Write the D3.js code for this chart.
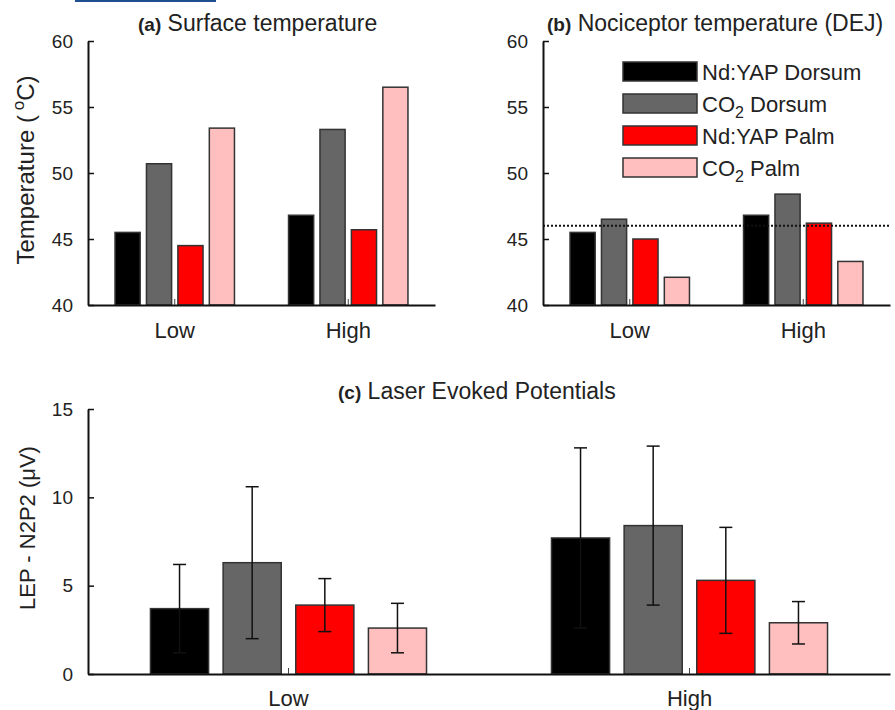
<!DOCTYPE html>
<html>
<head>
<meta charset="utf-8">
<script src="https://cdn.jsdelivr.net/npm/d3@7"></script>
<style>
  html, body { margin: 0; padding: 0; background: #fff; }
  svg { display: block; font-family: "Liberation Sans", Arial, sans-serif; }
</style>
</head>
<body>
<svg id="chart" width="895" height="710"></svg>
<script>
// ---------- data ----------
const categories = ["Low", "High"];
const seriesNames = ["Nd:YAP Dorsum", "CO2 Dorsum", "Nd:YAP Palm", "CO2 Palm"];
const seriesColors = ["#000000", "#666666", "#ff0000", "#ffbfbf"];
const surfaceLow = [45.5, 50.7, 44.5, 53.4];
const surfaceHigh = [46.8, 53.3, 45.7, 56.5];
const nociLow = [45.5, 46.5, 45.0, 42.1];
const nociHigh = [46.8, 48.4, 46.2, 43.3];
const nociThreshold = 46.0;
const lepLow = [3.7, 6.3, 3.9, 2.6];
const lepHigh = [7.7, 8.4, 5.3, 2.9];
const lepErrLow = [2.5, 4.3, 1.5, 1.4];
const lepErrHigh = [5.1, 4.5, 3.0, 1.2];
const tempTicks = [40, 45, 50, 55, 60];
const lepTicks = [0, 5, 10, 15];

const svg = d3.select("#chart");
const txt = "#222";

// decorative link underline at top-left
svg.append("rect").attr("x", 75).attr("y", 0).attr("width", 141).attr("height", 2).attr("fill", "#1e4f91");

function panel(opts) {
  const g = svg.append("g");
  const x0 = d3.scaleBand().domain(categories).range([opts.left, opts.right]);
  const x1 = d3.scaleBand().domain(seriesNames).range([0, x0.bandwidth()])
    .paddingInner(0.2).paddingOuter(0.86);
  const y = d3.scaleLinear().domain(opts.domain).range([opts.bottom, opts.top]);

  const rows = categories.map((c, i) => ({cat: c, vals: opts.values[i], errs: opts.errs ? opts.errs[i] : null}));
  const flat = [];
  rows.forEach(r => r.vals.forEach((v, j) => flat.push({cat: r.cat, s: seriesNames[j], v: v, e: r.errs ? r.errs[j] : null, c: seriesColors[j]})));

  g.selectAll("rect.bar").data(flat).enter().append("rect")
    .attr("class", "bar")
    .attr("x", d => x0(d.cat) + x1(d.s))
    .attr("width", x1.bandwidth())
    .attr("y", d => y(d.v))
    .attr("height", d => y(opts.domain[0]) - y(d.v))
    .attr("fill", d => d.c)
    .attr("stroke", "#333")
    .attr("stroke-width", 1.5);

  if (opts.errs) {
    const eg = g.selectAll("g.err").data(flat).enter().append("g").attr("class", "err")
      .attr("stroke", "#111").attr("stroke-width", 1.5);
    const cx = d => x0(d.cat) + x1(d.s) + x1.bandwidth() / 2;
    eg.append("line").attr("x1", cx).attr("x2", cx).attr("y1", d => y(d.v + d.e)).attr("y2", d => y(d.v - d.e));
    eg.append("line").attr("x1", d => cx(d) - 6.5).attr("x2", d => cx(d) + 6.5).attr("y1", d => y(d.v + d.e)).attr("y2", d => y(d.v + d.e));
    eg.append("line").attr("x1", d => cx(d) - 6.5).attr("x2", d => cx(d) + 6.5).attr("y1", d => y(d.v - d.e)).attr("y2", d => y(d.v - d.e));
  }

  if (opts.threshold != null) {
    g.append("line").attr("x1", opts.left).attr("x2", opts.right)
      .attr("y1", y(opts.threshold)).attr("y2", y(opts.threshold))
      .attr("stroke", "#111").attr("stroke-width", 2).attr("stroke-dasharray", "2,2");
  }

  // y axis
  const ya = g.append("g").attr("transform", `translate(${opts.left},0)`)
    .call(d3.axisLeft(y).tickValues(opts.ticks).tickSize(-6).tickSizeOuter(0).tickPadding(15));
  ya.select(".domain").attr("stroke", "#111").attr("stroke-width", 2);
  ya.selectAll(".tick line").attr("stroke", "#111").attr("stroke-width", 1.5);
  ya.selectAll("text").attr("font-size", 19).attr("fill", txt).attr("font-family", "Liberation Sans, Arial, sans-serif");

  // x axis
  const xa = g.append("g").attr("transform", `translate(0,${opts.bottom})`)
    .call(d3.axisBottom(x0).tickSize(-6).tickSizeOuter(0).tickPadding(opts.xPad));
  xa.select(".domain").attr("stroke", "#111").attr("stroke-width", 2);
  xa.selectAll(".tick line").attr("stroke", "#444").attr("stroke-width", 1);
  xa.selectAll("text").attr("font-size", 22).attr("fill", txt).attr("font-family", "Liberation Sans, Arial, sans-serif");

  // title
  const t = svg.append("text").attr("x", opts.titleX).attr("y", opts.titleY).attr("fill", txt);
  t.append("tspan").attr("font-weight", "bold").attr("font-size", 19).text(opts.titleTag);
  t.append("tspan").attr("font-size", 23).text(" " + opts.title);

  return {x0, x1, y};
}

panel({left: 88, right: 435, top: 41, bottom: 305, domain: [40, 60], ticks: tempTicks,
  values: [surfaceLow, surfaceHigh], xPad: 17, titleX: 138, titleY: 31, titleTag: "(a)", title: "Surface temperature"});

panel({left: 543, right: 890, top: 41, bottom: 305, domain: [40, 60], ticks: tempTicks,
  values: [nociLow, nociHigh], threshold: nociThreshold, xPad: 17, titleX: 547, titleY: 31, titleTag: "(b)", title: "Nociceptor temperature (DEJ)"});

panel({left: 88, right: 890, top: 409, bottom: 674, domain: [0, 15], ticks: lepTicks,
  values: [lepLow, lepHigh], errs: [lepErrLow, lepErrHigh], xPad: 16.5, titleX: 338, titleY: 399, titleTag: "(c)", title: "Laser Evoked Potentials"});

// y-axis titles
const yl1 = svg.append("text").attr("transform", "translate(34,170) rotate(-90)")
  .attr("text-anchor", "middle").attr("font-size", 24).attr("fill", txt);
yl1.append("tspan").text("Temperature (\u2009");
yl1.append("tspan").attr("font-size", 17).attr("dy", -10).text("o");
yl1.append("tspan").attr("dy", 10).text("C)");

svg.append("text").attr("transform", "translate(35,528) rotate(-90)")
  .attr("text-anchor", "middle").attr("font-size", 22).attr("fill", txt)
  .text("LEP - N2P2 (\u03BCV)");

// legend
const legendLabels = [["Nd:YAP Dorsum", null, ""], ["CO", "2", " Dorsum"], ["Nd:YAP Palm", null, ""], ["CO", "2", " Palm"]];
const lg = svg.append("g");
const rowY = d3.scalePoint().domain(seriesNames).range([62, 158]);
seriesNames.forEach((s, i) => {
  lg.append("rect").attr("x", 623).attr("y", rowY(s)).attr("width", 74).attr("height", 19)
    .attr("fill", seriesColors[i]).attr("stroke", "#333").attr("stroke-width", 1.5);
  const t = lg.append("text").attr("x", 702).attr("y", rowY(s) + 18).attr("font-size", 22).attr("fill", txt);
  const L = legendLabels[i];
  t.append("tspan").text(L[0]);
  if (L[1]) {
    t.append("tspan").attr("font-size", 16).attr("dy", 6).text(L[1]);
    t.append("tspan").attr("dy", -6).text(L[2]);
  }
});
</script>
</body>
</html>
